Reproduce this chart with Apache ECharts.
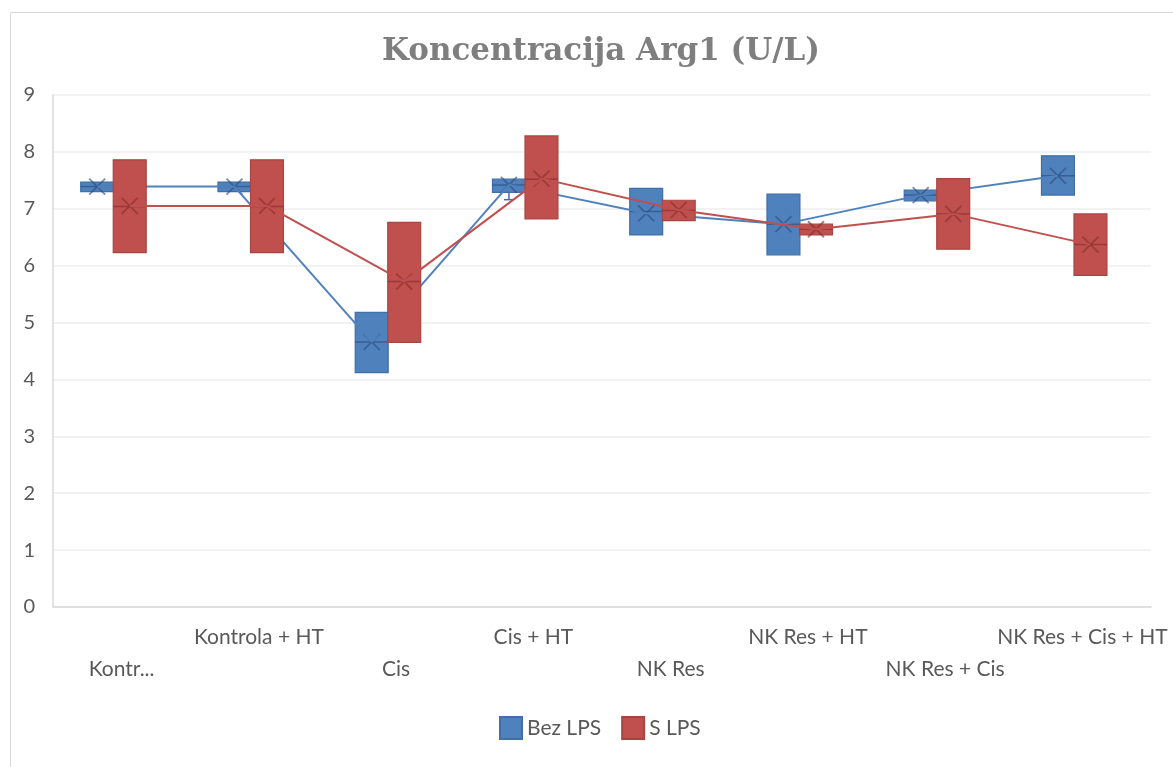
<!DOCTYPE html>
<html>
<head>
<meta charset="utf-8">
<title>Koncentracija Arg1 (U/L)</title>
<script src="https://cdn.jsdelivr.net/npm/echarts@6/dist/echarts.min.js"></script>
<style>
  html, body { margin: 0; padding: 0; background: #ffffff; }
  #chart { width: 1173px; height: 767px; }
</style>
</head>
<body>
<div id="chart"></div>
<script>
// Groups on the category axis and the labels shown under it
const categories = ['Kontrola', 'Kontrola + HT', 'Cis', 'Cis + HT', 'NK Res', 'NK Res + HT', 'NK Res + Cis', 'NK Res + Cis + HT'];
const tickLabels = ['Kontr...', 'Kontrola + HT', 'Cis', 'Cis + HT', 'NK Res', 'NK Res + HT', 'NK Res + Cis', 'NK Res + Cis + HT'];
const yTicks = [0, 1, 2, 3, 4, 5, 6, 7, 8, 9];

// Bez LPS: box (Q1..Q3), median, mean, whisker ends
const bezQ1     = [7.30, 7.30, 4.12, 7.29, 6.54, 6.19, 7.14, 7.24];
const bezQ3     = [7.47, 7.47, 5.18, 7.52, 7.36, 7.26, 7.33, 7.93];
const bezMedian = [7.39, 7.39, 4.66, 7.42, 6.95, 6.73, 7.24, 7.58];
const bezMean   = [7.39, 7.39, 4.66, 7.42, 6.92, 6.73, 7.24, 7.58];
const bezMin    = [7.30, 7.30, 4.12, 7.16, 6.54, 6.19, 7.14, 7.24];
const bezMax    = [7.47, 7.47, 5.18, 7.52, 7.36, 7.26, 7.33, 7.93];

// S LPS: box (Q1..Q3), median, mean, whisker ends
const sQ1       = [6.23, 6.23, 4.65, 6.82, 6.79, 6.54, 6.29, 5.83];
const sQ3       = [7.86, 7.86, 6.76, 8.28, 7.15, 6.73, 7.53, 6.91];
const sMedian   = [7.04, 7.04, 5.72, 7.52, 6.97, 6.64, 6.91, 6.37];
const sMean     = [7.05, 7.05, 5.72, 7.53, 6.98, 6.64, 6.91, 6.37];
const sMin      = [6.23, 6.23, 4.65, 6.82, 6.79, 6.54, 6.29, 5.83];
const sMax      = [7.86, 7.86, 6.76, 8.28, 7.15, 6.73, 7.53, 6.91];

const LABEL_FONT = 'Lato, "Noto Sans", "Liberation Sans", sans-serif';
const BOX_WIDTH = 0.24;          // fraction of a category band
const BLUE = { fill: '#4F81BD', stroke: '#416FA8', mark: '#2E5082', line: '#4F81BD' };
const RED  = { fill: '#C0504D', stroke: '#A84542', mark: '#8A2F2D', line: '#C0504D' };

function boxRenderer(q1, q3, med, mean, lo, hi, shift, pal) {
  return function (params, api) {
    const i = params.dataIndex;
    const band = api.size([1, 0])[0];
    const cx = api.coord([i, 0])[0] + shift * band;
    const w = band * BOX_WIDTH;
    const yTop = api.coord([i, q3[i]])[1];
    const yBot = api.coord([i, q1[i]])[1];
    const yMed = api.coord([i, med[i]])[1];
    const yMean = api.coord([i, mean[i]])[1];
    const yLo = api.coord([i, lo[i]])[1];
    const yHi = api.coord([i, hi[i]])[1];
    const children = [];
    const capW = 10;
    if (yLo - yBot > 0.5) {
      children.push({ type: 'line', shape: { x1: cx, y1: yBot, x2: cx, y2: yLo }, style: { stroke: pal.stroke, lineWidth: 1.5 } });
      children.push({ type: 'line', shape: { x1: cx - capW / 2, y1: yLo, x2: cx + capW / 2, y2: yLo }, style: { stroke: pal.stroke, lineWidth: 1.5 } });
    }
    if (yTop - yHi > 0.5) {
      children.push({ type: 'line', shape: { x1: cx, y1: yTop, x2: cx, y2: yHi }, style: { stroke: pal.stroke, lineWidth: 1.5 } });
      children.push({ type: 'line', shape: { x1: cx - capW / 2, y1: yHi, x2: cx + capW / 2, y2: yHi }, style: { stroke: pal.stroke, lineWidth: 1.5 } });
    }
    children.push({
      type: 'rect',
      shape: { x: cx - w / 2, y: yTop, width: w, height: yBot - yTop },
      style: { fill: pal.fill, stroke: pal.stroke, lineWidth: 1.2 }
    });
    children.push({
      type: 'line',
      shape: { x1: cx - w / 2, y1: yMed, x2: cx + w / 2, y2: yMed },
      style: { stroke: pal.mark, lineWidth: 1.5, opacity: 0.7 }
    });
    const m = 8;
    children.push({ type: 'line', shape: { x1: cx - m, y1: yMean - m, x2: cx + m, y2: yMean + m }, style: { stroke: pal.mark, lineWidth: 1.8, opacity: 0.65 } });
    children.push({ type: 'line', shape: { x1: cx - m, y1: yMean + m, x2: cx + m, y2: yMean - m }, style: { stroke: pal.mark, lineWidth: 1.8, opacity: 0.65 } });
    return { type: 'group', children: children };
  };
}

const BLUE_SHIFT = -0.178;
const RED_SHIFT = 0.059;

const chart = echarts.init(document.getElementById('chart'), null, { renderer: 'canvas' });
chart.setOption({
  animation: false,
  backgroundColor: '#ffffff',
  title: {
    text: 'Koncentracija Arg1 (U/L)',
    left: 596,
    top: 31,
    textAlign: 'center',
    textStyle: { fontFamily: '"DejaVu Serif", "Liberation Serif", serif', fontWeight: 'bold', fontSize: 31, color: '#7F7F7F' }
  },
  graphic: [
    { type: 'line', shape: { x1: 10.5, y1: 12.5, x2: 1173, y2: 12.5 }, style: { stroke: '#D9D9D9', lineWidth: 1 } },
    { type: 'line', shape: { x1: 10.5, y1: 12.5, x2: 10.5, y2: 767 }, style: { stroke: '#D9D9D9', lineWidth: 1 } }
  ],
  legend: {
    left: 494,
    top: 711,
    itemWidth: 22,
    itemHeight: 22,
    itemGap: 20,
    icon: 'rect',
    data: ['Bez LPS', 'S LPS'],
    textStyle: { fontFamily: LABEL_FONT, fontSize: 21, color: '#595959' }
  },
  grid: { left: 53, right: 22, top: 95, bottom: 160 },
  xAxis: [
    {
      type: 'category',
      data: tickLabels,
      axisLine: { lineStyle: { color: '#D9D9D9', width: 1.5 } },
      axisTick: { show: false },
      axisLabel: {
        interval: 0,
        hideOverlap: false,
        margin: 14,
        lineHeight: 32,
        fontFamily: LABEL_FONT,
        fontSize: 21,
        color: '#595959',
        formatter: function (v, i) { return i % 2 === 0 ? '\n' + v : v; }
      },
      splitLine: { show: false }
    },
    {
      type: 'value',
      min: -0.5,
      max: categories.length - 0.5,
      show: false
    }
  ],
  yAxis: {
    type: 'value',
    min: yTicks[0],
    max: yTicks[yTicks.length - 1],
    interval: 1,
    axisLine: { show: true, onZero: false, lineStyle: { color: '#D9D9D9', width: 1.5 } },
    axisTick: { show: false },
    axisLabel: { margin: 18, fontFamily: LABEL_FONT, fontSize: 20, color: '#595959' },
    splitLine: { lineStyle: { color: '#EEEEEE', width: 1.5 } }
  },
  series: [
    {
      name: 'Bez LPS',
      type: 'custom',
      xAxisIndex: 1,
      z: 2,
      itemStyle: { color: BLUE.fill, borderColor: BLUE.stroke, borderWidth: 1 },
      renderItem: boxRenderer(bezQ1, bezQ3, bezMedian, bezMean, bezMin, bezMax, BLUE_SHIFT, BLUE),
      encode: { x: 0, y: [1, 2] },
      data: categories.map((c, i) => [i, bezQ1[i], bezQ3[i]])
    },
    {
      name: 'Bez LPS mean',
      type: 'line',
      xAxisIndex: 1,
      z: 3,
      symbol: 'none',
      lineStyle: { color: BLUE.line, width: 2 },
      data: bezMean.map((v, i) => [i + BLUE_SHIFT, v])
    },
    {
      name: 'S LPS',
      type: 'custom',
      xAxisIndex: 1,
      z: 4,
      itemStyle: { color: RED.fill, borderColor: RED.stroke, borderWidth: 1 },
      renderItem: boxRenderer(sQ1, sQ3, sMedian, sMean, sMin, sMax, RED_SHIFT, RED),
      encode: { x: 0, y: [1, 2] },
      data: categories.map((c, i) => [i, sQ1[i], sQ3[i]])
    },
    {
      name: 'S LPS mean',
      type: 'line',
      xAxisIndex: 1,
      z: 5,
      symbol: 'none',
      lineStyle: { color: RED.line, width: 2 },
      data: sMean.map((v, i) => [i + RED_SHIFT, v])
    }
  ]
});
</script>
</body>
</html>
